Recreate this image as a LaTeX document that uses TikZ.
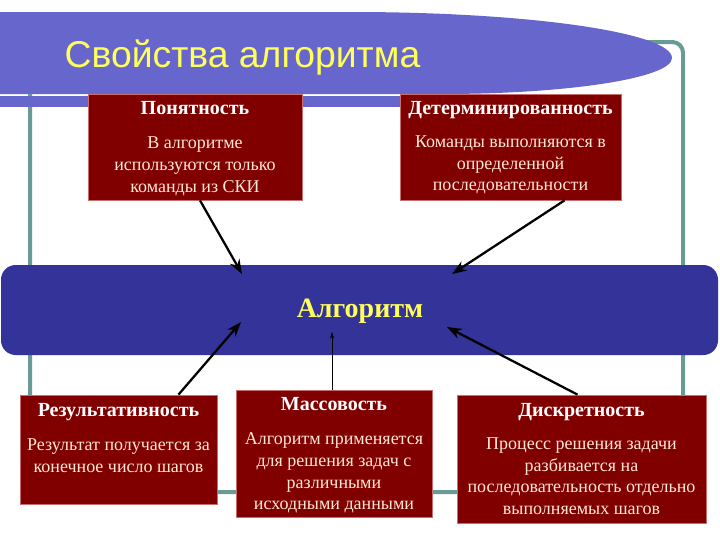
\documentclass[tikz,border=0pt]{standalone}
\usepackage{fontspec}
\setmainfont{Liberation Serif}
\newfontfamily\titlefont{Liberation Sans}
\usetikzlibrary{arrows.meta, positioning, calc, fit}
\definecolor{bannerblue}{RGB}{102, 102, 204}
\definecolor{barblue}{RGB}{51, 51, 153}
\definecolor{boxred}{RGB}{128, 0, 0}
\definecolor{boxedge}{RGB}{200, 110, 110}
\definecolor{framegreen}{RGB}{104, 154, 150}
\definecolor{titleyellow}{RGB}{255, 255, 90}
\definecolor{bodytext}{RGB}{255, 232, 214}
\tikzset{
  propbox/.style={draw=boxedge, fill=boxred, line width=0.6pt, inner sep=0pt},
  proptext/.style={anchor=north, align=center, text=bodytext, inner sep=0pt,
    font=\fontsize{13.5}{16.3}\selectfont},
  arr/.style={-{Stealth[length=11pt, width=8pt]}, line width=1.7pt},
  thinarr/.style={-{Stealth[length=5pt, width=3pt]}, line width=0.5pt},
}
\newcommand{\proptitle}[1]{{\fontsize{15}{17}\selectfont\bfseries\color{white}#1}}

\begin{document}
\begin{tikzpicture}[x=0.75pt, y=-0.75pt]
  \useasboundingbox (0,0) rectangle (720,540);
  % frame behind everything
  \draw[framegreen, line width=3pt, rounded corners=8pt] (30,42) rectangle (683,492);
  % title banner
  \fill[bannerblue] (-5,12) -- (352,12) arc[start angle=-90, end angle=0, x radius=320, y radius=46]
    arc[start angle=0, end angle=90, x radius=230, y radius=36] -- (-5,94) -- cycle;
  \fill[bannerblue] (-5,96) rectangle (600,107);
  \node[anchor=west, text=titleyellow, font=\titlefont\fontsize{28}{32}\selectfont] (title) at (60,58) {Свойства алгоритма};

  % central bar
  \node[fill=barblue, rounded corners=11pt, inner sep=0pt, fit={(1,265) (718,355)}] (alg) {};
  \node[text=titleyellow, font=\fontsize{21}{24}\selectfont\bfseries] (algtxt) at (360,311) {Алгоритм};

  % property boxes
  \node[propbox, fit={(88,94) (302,200)}] (ponyat) {};
  \node[proptext] (ponyattxt) at ($(ponyat.north)+(0,8)$)
    {\proptitle{Понятность}\\[9pt]В алгоритме\\используются только\\команды из СКИ};

  \node[propbox, fit={(400,94) (621,200)}] (determ) {};
  \node[proptext] (determtxt) at ($(determ.north)+(0,8)$)
    {\proptitle{Детерминированность}\\[8pt]Команды выполняются в\\определенной\\последовательности};

  \node[propbox, fit={(20,395) (217,504)}] (result) {};
  \node[proptext] (resulttxt) at ($(result.north)+(0,9)$)
    {\proptitle{Результативность}\\[9pt]Результат получается за\\конечное число шагов};

  \node[propbox, fit={(236,390) (432,517)}] (mass) {};
  \node[proptext] (masstxt) at ($(mass.north)+(0,8)$)
    {\proptitle{Массовость}\\[9pt]Алгоритм применяется\\для решения задач с\\различными\\исходными данными};

  \node[propbox, fit={(457,395) (706,523)}] (diskr) {};
  \node[proptext] (diskrtxt) at ($(diskr.north)+(0,9)$)
    {\proptitle{Дискретность}\\[8pt]Процесс решения задачи\\разбивается на\\последовательность отдельно\\выполняемых шагов};

  % arrow ends on the bar
  \coordinate (inA) at (242,274);
  \coordinate (inB) at (452,274);
  \coordinate (inC) at (241,322);
  \coordinate (inD) at (332,332);
  \coordinate (inE) at (447,327);

  \draw[arr] ($(ponyat.south)+(5,0)$) -- (inA);
  \draw[arr] ($(determ.south)+(54,0)$) -- (inB);
  \draw[arr] ($(result.north)+(60,0)$) -- (inC);
  \draw[thinarr] ($(mass.north)+(-2,0)$) -- (inD);
  \draw[arr] ($(diskr.north)+(-4,0)$) -- (inE);
\end{tikzpicture}
\end{document}
